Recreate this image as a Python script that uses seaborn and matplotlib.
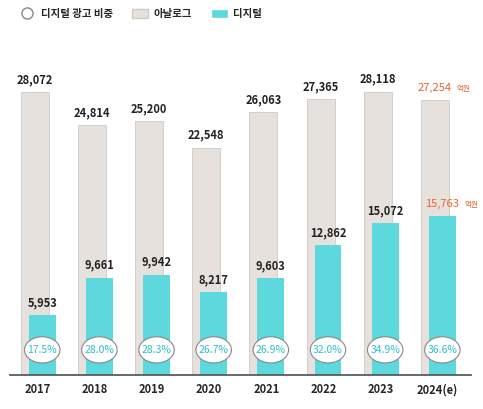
import matplotlib
matplotlib.use("Agg")
import matplotlib.pyplot as plt
import seaborn as sns
from matplotlib.patches import Ellipse, Rectangle
from matplotlib.lines import Line2D

years = ["2017","2018","2019","2020","2021","2022","2023","2024(e)"]
analog = [28072,24814,25200,22548,26063,27365,28118,27254]
digital = [5953,9661,9942,8217,9603,12862,15072,15763]
share = ["17.5%","28.0%","28.3%","26.7%","26.9%","32.0%","34.9%","36.6%"]

sns.set_theme(style="white")
plt.rcParams['font.family'] = ['Noto Sans CJK KR', 'DejaVu Sans']

fig = plt.figure(figsize=(4.83,4.09), dpi=100)
ax = fig.add_axes([0.02, 0.083, 0.955, 0.843])
ACOL = "#e6e1dc"; DCOL = "#5dd9dd"; RED = "#e8622c"
xs = list(range(len(years)))
ax.bar([x-0.05 for x in xs], analog, width=0.49, color=ACOL, edgecolor="#cfc9c2", linewidth=0.6)
ax.bar([x+0.08 for x in xs], digital, width=0.47, color=DCOL, edgecolor="none")
ax.set_xlim(-0.49, 7.58)
ax.set_ylim(0, 34220)
for i,(a,d,s) in enumerate(zip(analog,digital,share)):
    if i == 7:
        ax.text(i-0.05, a+900, f"{a:,}", ha="center", va="baseline", fontsize=8, color=RED)
        ax.text(i+0.08, d+900, f"{d:,}", ha="center", va="baseline", fontsize=8, color=RED)
        ax.text(i+0.33, a+900, "억원", ha="left", va="baseline", fontsize=5.5, color=RED)
        ax.text(i+0.46, d+900, "억원", ha="left", va="baseline", fontsize=5.5, color=RED)
    else:
        ax.text(i-0.05, a+900, f"{a:,}", ha="center", va="baseline", fontsize=8, fontweight="bold", color="#222222")
        ax.text(i+0.08, d+900, f"{d:,}", ha="center", va="baseline", fontsize=8, fontweight="bold", color="#222222")
    ax.add_patch(Ellipse((i+0.08, 2500), 0.62, 2600, facecolor="white", edgecolor="#888888", lw=0.8, zorder=3))
    ax.text(i+0.08, 2500, s, ha="center", va="center", fontsize=7.5, color="#2fbfc6", zorder=4)
ax.set_xticks(xs)
ax.set_xticklabels(years, fontsize=8, fontweight="bold")
ax.set_yticks([])
for sp in ["top","right","left"]:
    ax.spines[sp].set_visible(False)
ax.spines["bottom"].set_color("#555555")
ax.tick_params(axis="x", length=0, pad=6)

handles = [Line2D([],[],marker="o",ls="none",markerfacecolor="white",markeredgecolor="#888888",markersize=8),
           Rectangle((0,0),1,1,facecolor=ACOL,edgecolor="#cfc9c2"),
           Rectangle((0,0),1,1,facecolor=DCOL)]
fig.legend(handles, ["디지털 광고 비중","아날로그","디지털"], loc="upper left", bbox_to_anchor=(0.02,1.0),
           ncol=3, frameon=False, handlelength=1.6, handleheight=0.9, handletextpad=0.5, columnspacing=1.8,
           prop={'weight':'bold','size':7.5})
fig.savefig("out.png", dpi=100)
